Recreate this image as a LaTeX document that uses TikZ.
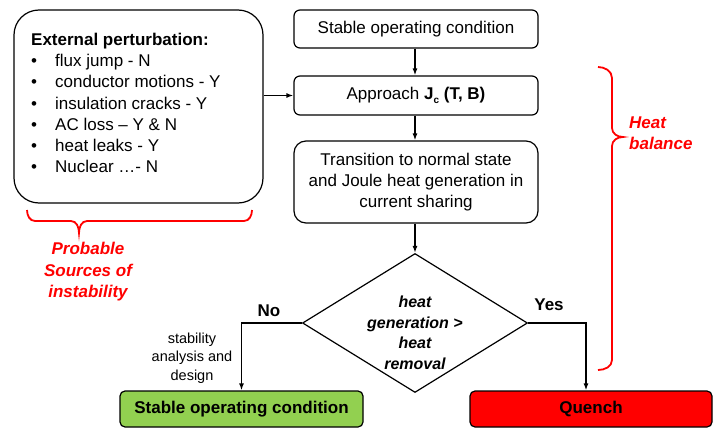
\documentclass[tikz,border=0pt]{standalone}
\usepackage{fontspec}
\setmainfont{Liberation Sans}
\usetikzlibrary{shapes.geometric,arrows.meta}
\begin{document}
\begin{tikzpicture}[x=1pt,y=-1pt,
  font=\fontsize{17}{21}\selectfont,
  box/.style={draw=black, line width=1.2pt, rounded corners=6pt, inner sep=0pt,
              minimum width=244pt, align=center},
  flow/.style={line width=1.4pt, -{Latex[length=7pt,width=5pt]}},
  branch/.style={line width=1.8pt, -{Latex[length=7pt,width=5pt]}},
  decision/.style={draw=black, line width=1.2pt, diamond, inner sep=0pt,
                   minimum width=225pt, minimum height=139pt},
  brace/.style={draw=red, line width=1.8pt},
  note/.style={text=red, font=\fontsize{17}{21.5}\selectfont\bfseries\itshape},
  answer/.style={font=\fontsize{17}{20}\selectfont\bfseries}
]
\useasboundingbox (0,0) rectangle (721,428);

% perturbation sources
\node[box, rounded corners=25pt, minimum width=249pt, minimum height=193pt]
  (ext) at (138.5,106.5) {};
\node[anchor=north west, inner sep=0pt, align=left,
      font=\fontsize{17}{21.2}\selectfont] (extlist) at (31,33)
  {\textbf{External perturbation:}\\
   \makebox[24pt][l]{\textbullet}flux jump - N\\
   \makebox[24pt][l]{\textbullet}conductor motions - Y\\
   \makebox[24pt][l]{\textbullet}insulation cracks - Y\\
   \makebox[24pt][l]{\textbullet}AC loss – Y \& N\\
   \makebox[24pt][l]{\textbullet}heat leaks - Y\\
   \makebox[24pt][l]{\textbullet}Nuclear …- N};

% main chain
\node[box, minimum height=38pt] (start) at (416,29) {Stable operating condition};
\node[box, minimum height=39pt] (appr) at (416,95.5)
  {Approach \textbf{J\raisebox{-0.35ex}{\fontsize{10}{10}\selectfont c} (T, B)}};
\node[box, rounded corners=12pt, minimum height=82pt,
      font=\fontsize{17}{21}\selectfont] (trans) at (416,182)
  {Transition to normal state\\and Joule heat generation in\\current sharing};
\node[decision] (dec) at (415,323) {};
\node[align=center, inner sep=0pt, font=\fontsize{16}{20.5}\selectfont\bfseries\itshape]
  (dectext) at (415,333) {heat\\generation >\\heat\\removal};

% outcomes
\node[box, fill={rgb,255:red,146;green,208;blue,80}, minimum width=243pt,
      minimum height=36pt, rounded corners=5pt, font=\fontsize{17}{20}\selectfont\bfseries]
  (stable) at (241.5,409) {Stable operating condition};
\node[box, fill=red, minimum width=242pt, minimum height=36pt, rounded corners=5pt,
      font=\fontsize{17}{20}\selectfont\bfseries]
  (quench) at (591,409) {Quench};

% connectors
\draw[flow] (ext.east |- appr.west) -- (appr.west);
\draw[flow] (start.south -| dec.north) -- (appr.north -| dec.north);
\draw[flow] (appr.south -| dec.north) -- (trans.north -| dec.north);
\draw[flow] (trans.south -| dec.north) -- (dec.north);
\draw[branch] (dec.west) -| (stable.north);
\draw[branch] (dec.east) -| ([xshift=-5pt]quench.north);

\node[answer] (no) at (269,311) {No};
\node[answer] (yes) at (549,305) {Yes};
\node[align=center, font=\fontsize{14.5}{18.5}\selectfont] (design) at (192,358)
  {stability\\analysis and\\design};

% brace under the perturbation box
\draw[brace] (27,210) to[out=-90,in=180] (35,221) -- (71,221)
  to[out=0,in=90] (79,233) to[out=90,in=180] (87,221) -- (244,221)
  to[out=0,in=-90] (252,210);
\node[note, align=center] (sources) at (88,272)
  {Probable\\Sources of\\instability};

% brace along the heat-balance steps
\draw[brace] (598,67) to[out=0,in=90] (612,78) -- (612,128)
  to[out=-90,in=180] (623,137) to[out=180,in=90] (612,146) -- (612,360)
  to[out=-90,in=0] (598,370);
\node[note, align=left, anchor=west, inner sep=0pt] (heat) at (629,133)
  {Heat\\balance};
\end{tikzpicture}
\end{document}
